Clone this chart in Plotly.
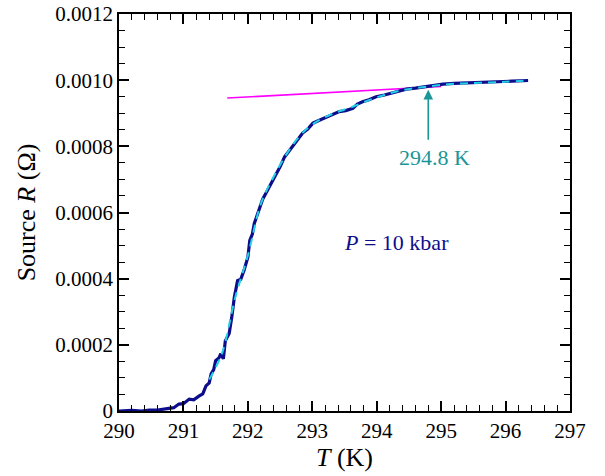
import plotly.graph_objects as go

# measured data (T in K, R in ohm)
T_data = [290.00, 290.20, 290.35, 290.47, 290.60, 290.73, 290.85, 290.93, 291.00, 291.09,
          291.16, 291.24, 291.30, 291.35, 291.40, 291.43, 291.47, 291.50, 291.55, 291.58,
          291.62, 291.65, 291.68, 291.71, 291.75, 291.79, 291.84, 291.89, 291.94, 292.00,
          292.03, 292.07, 292.10, 292.14, 292.18, 292.23, 292.28, 292.32, 292.36, 292.40,
          292.44, 292.50, 292.57, 292.64, 292.72, 292.78, 292.85, 292.93, 293.01, 293.10,
          293.22, 293.32, 293.42, 293.52, 293.63, 293.70, 293.78, 293.88, 293.99, 294.12,
          294.25, 294.35, 294.46, 294.60, 294.74, 294.88, 295.03, 295.20, 295.39, 295.60,
          295.80, 295.91, 296.10, 296.35]
R_data = [0.0, 0.000002, 0.0, 0.000003, 0.000003, 0.000006, 0.000010, 0.000021, 0.000022, 0.000036,
          0.000034, 0.000045, 0.000052, 0.000076, 0.000085, 0.000112, 0.000125, 0.000152, 0.000160, 0.000173,
          0.000158, 0.000212, 0.000222, 0.000234, 0.000283, 0.000344, 0.000394, 0.000398, 0.000425, 0.000465,
          0.000516, 0.000535, 0.000567, 0.000590, 0.000617, 0.000640, 0.000658, 0.000672, 0.000688, 0.000700,
          0.000719, 0.000738, 0.000768, 0.000786, 0.000810, 0.000822, 0.000840, 0.000852, 0.000870, 0.000878,
          0.000889, 0.000898, 0.000905, 0.000908, 0.000915, 0.000928, 0.000935, 0.000941, 0.000950, 0.000955,
          0.000962, 0.000966, 0.000973, 0.000976, 0.000980, 0.000984, 0.000988, 0.000990, 0.000991, 0.000992,
          0.000993, 0.000994, 0.000997, 0.000999]

# smooth fit curve
T_fit = [291.40, 291.60, 291.80, 292.00, 292.20, 292.40, 292.60, 292.80, 293.00, 293.30,
         293.60, 294.00, 294.40, 294.80, 295.20, 295.60, 296.00, 296.35]
R_fit = [0.000095, 0.000175, 0.000340, 0.000470, 0.000625, 0.000708, 0.000776, 0.000830, 0.000866, 0.000897,
         0.000918, 0.000948, 0.000970, 0.000981, 0.000989, 0.000992, 0.000995, 0.000999]

# normal-state tangent line
T_tan = [291.68, 295.00]
R_tan = [0.000946, 0.000981]

onset_T = 294.8
onset_R = 0.000980
onset_label = "294.8 K"
pressure_label = "<i>P</i> = 10 kbar"

y_ticks = [0, 0.0002, 0.0004, 0.0006, 0.0008, 0.0010, 0.0012]
y_ticktext = ["0", "0.0002", "0.0004", "0.0006", "0.0008", "0.0010", "0.0012"]
x_ticks = [290, 291, 292, 293, 294, 295, 296, 297]

navy = "#0d0d8c"
teal = "#1a9696"
font_family = "Liberation Serif"

fig = go.Figure()
fig.add_trace(go.Scatter(x=T_tan, y=R_tan, mode="lines",
                         line=dict(color="#ff00ff", width=1.6), showlegend=False))
fig.add_trace(go.Scatter(x=T_data, y=R_data, mode="lines",
                         line=dict(color=navy, width=3.2), showlegend=False))
fig.add_trace(go.Scatter(x=T_fit, y=R_fit, mode="lines", line_shape="spline",
                         line=dict(color="#22d0e6", width=2, dash="8px,6px"), showlegend=False))

fig.add_annotation(x=onset_T, y=onset_R, ax=onset_T, ay=0.000815, axref="x", ayref="y",
                   xref="x", yref="y", showarrow=True, arrowhead=2, arrowsize=1.2,
                   arrowwidth=1.6, arrowcolor=teal, standoff=3, text="")
fig.add_annotation(x=onset_T + 0.1, y=0.000765, xref="x", yref="y", text=onset_label,
                   showarrow=False, font=dict(family=font_family, size=22, color=teal))
fig.add_annotation(x=294.3, y=0.000510, xref="x", yref="y", text=pressure_label,
                   showarrow=False, font=dict(family=font_family, size=22, color=navy))

axis_common = dict(showline=True, linecolor="black", linewidth=1.5, mirror="allticks",
                   ticks="inside", ticklen=10, tickwidth=1.5, tickcolor="black",
                   showgrid=False, zeroline=False, automargin=False,
                   tickfont=dict(family=font_family, size=21, color="black"))

fig.update_xaxes(range=[290, 297], tickvals=x_ticks,
                 minor=dict(dtick=0.2, ticks="inside", ticklen=6, tickwidth=1.3, tickcolor="black"),
                 title=dict(text="<i>T</i> (K)", font=dict(family=font_family, size=26, color="black"),
                            standoff=6),
                 **axis_common)
fig.update_yaxes(range=[0, 0.0012], tickvals=y_ticks, ticktext=y_ticktext,
                 minor=dict(dtick=0.00005, ticks="inside", ticklen=6, tickwidth=1.3, tickcolor="black"),
                 title=dict(text="Source <i>R</i> (Ω)", font=dict(family=font_family, size=26, color="black"),
                            standoff=12),
                 **axis_common)

fig.update_layout(width=605, height=476, plot_bgcolor="white", paper_bgcolor="white",
                  margin=dict(l=119, r=35, t=14, b=65), showlegend=False)

fig.write_html("out.html")
